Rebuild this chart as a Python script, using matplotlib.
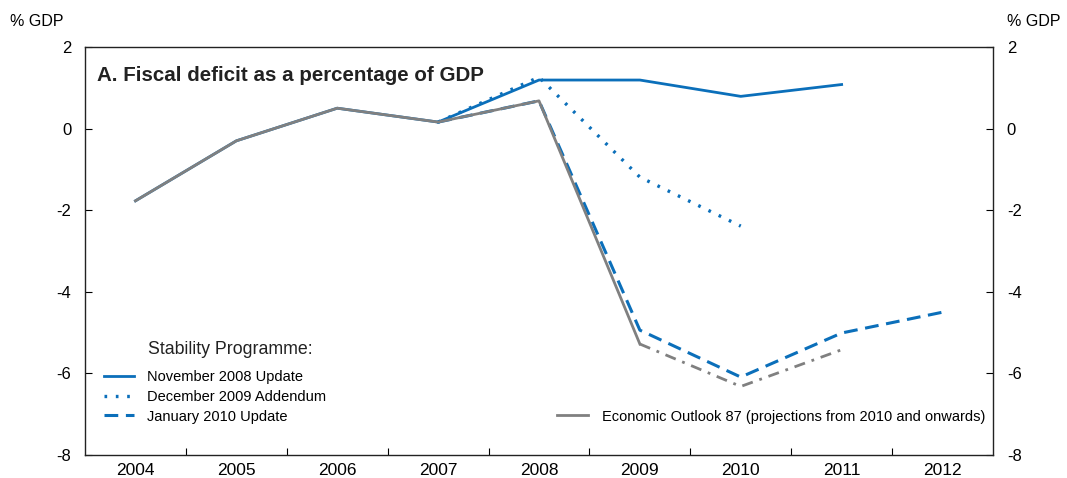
import numpy as np
import matplotlib.pyplot as plt
from matplotlib.lines import Line2D

plt.rcParams['font.family'] = ['Liberation Sans', 'DejaVu Sans']
plt.rcParams['axes.unicode_minus'] = False

years = ["2004", "2005", "2006", "2007", "2008", "2009", "2010", "2011", "2012"]

# history (2004-2008) shared by all vintages
history = [-1.77, -0.30, 0.50, 0.16, 0.68]
# Economic Outlook 87 projections (2009-2011)
eo87_proj = [-5.28, -6.32, -5.42]
# Stability Programme vintages, values from 2007 onwards
nov2008 = [0.16, 1.19, 1.19, 0.79, 1.08]
dec2009 = [0.16, 1.26, -1.19, -2.39]
jan2010 = [0.16, 0.68, -4.94, -6.09, -5.01, -4.50]

BLUE = "#0b6fba"
GREY = "#808080"
DOT = (0, (0.8, 2.6))
DASH = (0, (4.5, 2.5))

x = np.arange(len(years))

fig = plt.figure(figsize=(10.67, 4.78), dpi=100)
ax = fig.add_axes([0.0797, 0.0481, 0.8509, 0.8536])

# blue vintages
ax.plot(x[:4], history[:4], color=BLUE, lw=2)
ax.plot(x[3:3 + len(nov2008)], nov2008, color=BLUE, lw=2)
ax.plot(x[3:3 + len(dec2009)], dec2009, color=BLUE, lw=2.4, linestyle=DOT)
ax.plot(x[3:3 + len(jan2010)], jan2010, color=BLUE, lw=2.2, linestyle=DASH)

# grey: actual history + EO87 projections
ax.plot(x[:6], history + eo87_proj[:1], color=GREY, lw=2)
ax.plot(x[5:8], eo87_proj, color=GREY, lw=2, linestyle=(0, (4, 2.5, 1, 2.5)))

ax.set_xlim(-0.5, len(years) - 0.5)
ax.set_ylim(-8, 2)

# ticks at category boundaries, labels centred
ax.set_xticks(np.arange(0.5, len(years) - 0.5))
ax.set_xticklabels([])
ax.set_xticks(x, minor=True)
ax.set_xticklabels(years, minor=True, fontsize=12.5)
ax.tick_params(axis='x', which='major', direction='in', length=5, top=False)
ax.tick_params(axis='x', which='minor', length=0, pad=6)

ax.set_yticks([-8, -6, -4, -2, 0, 2])
ax.tick_params(axis='y', direction='in', length=5, left=True, right=True,
               labelleft=True, labelright=True, labelsize=12, pad=10)
for s in ax.spines.values():
    s.set_linewidth(1.0)
    s.set_color("#222222")

fig.text(0.009, 0.955, "% GDP", fontsize=11.5, ha='left', va='center')
fig.text(0.994, 0.955, "% GDP", fontsize=11.5, ha='right', va='center')

ax.text(0.013, 0.93, "A. Fiscal deficit as a percentage of GDP", transform=ax.transAxes,
        fontsize=14.8, fontweight='bold', color="#222222", va='center')

ax.text(0.0695, 0.259, "Stability Programme:", transform=ax.transAxes, fontsize=12.8,
        va='center', color="#222222")

h1 = [Line2D([], [], color=BLUE, lw=2),
      Line2D([], [], color=BLUE, lw=2.4, linestyle=DOT),
      Line2D([], [], color=BLUE, lw=2.2, linestyle=DASH)]
leg1 = ax.legend(h1, ["November 2008 Update", "December 2009 Addendum", "January 2010 Update"],
                 loc='lower left', bbox_to_anchor=(0.006, 0.045), frameon=False, fontsize=10.5,
                 handlelength=2.1, handletextpad=0.9, labelspacing=0.38, borderaxespad=0.5)
ax.add_artist(leg1)
h2 = [Line2D([], [], color=GREY, lw=2)]
ax.legend(h2, ["Economic Outlook 87 (projections from 2010 and onwards)"],
          loc='lower right', bbox_to_anchor=(1.0066, 0.045), frameon=False, fontsize=10.5,
          handlelength=2.1, handletextpad=1.0, borderaxespad=0.5)

fig.savefig("out.png", dpi=100)
